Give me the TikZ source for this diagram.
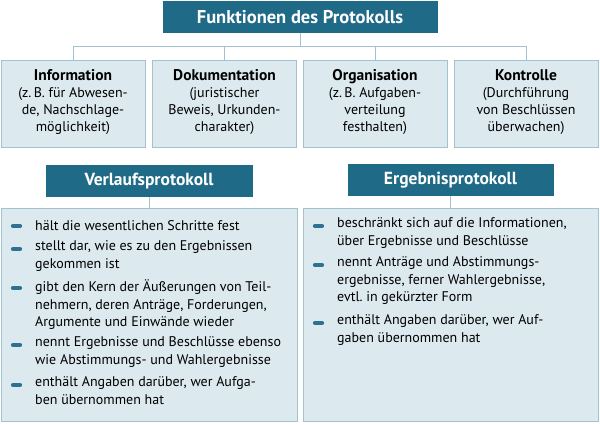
\documentclass[tikz,border=0pt]{standalone}
\usepackage{fontspec}
\setmainfont{PT Sans}

\definecolor{headblue}{HTML}{1F6A87}
\definecolor{boxfill}{HTML}{DCE9EF}
\definecolor{boxline}{HTML}{A2C2CF}
\definecolor{dashblue}{HTML}{2D7193}

\begin{document}
\begin{tikzpicture}[x=1pt, y=-1pt,
    head/.style={fill=headblue, text=white, inner sep=0pt, minimum height=32pt,
        font=\bfseries\fontsize{17.5}{19}\selectfont},
    funcbox/.style={draw=boxline, fill=boxfill, line width=0.8pt, minimum width=144pt,
        minimum height=87pt, inner sep=0pt, align=center,
        font=\fontsize{14}{17}\selectfont,
        execute at begin node=\strut, execute at end node=\strut},
    listbox/.style={draw=boxline, fill=boxfill, line width=0.8pt, inner sep=0pt,
        minimum height=213pt},
    item/.style={anchor=north west, inner sep=0pt, align=left,
        font=\fontsize{14}{17.5}\selectfont,
        execute at begin node=\strut, execute at end node=\strut},
    itemdash/.style={dashblue, line width=4.2pt, line cap=round},
    link/.style={boxline, line width=0.8pt}]

    \def\boxhead#1{{\fontsize{15.5}{17}\selectfont\bfseries #1}}

    \useasboundingbox (0,0) rectangle (600,425);

    % --- Top: functions ---
    \node[head, minimum width=275pt, font=\bfseries\fontsize{18.5}{19}\selectfont] (title) at (300,17)
        {Funktionen des Protokolls};

    \node[funcbox] (info) at (73,103.5)
        {\boxhead{Information}\\(z.\,B. für Abwesen-\\de, Nachschlage-\\möglichkeit)};
    \node[funcbox] (doku) at (224.5,103.5)
        {\boxhead{Dokumentation}\\(juristischer\\Beweis, Urkunden-\\charakter)};
    \node[funcbox] (orga) at (375,103.5)
        {\boxhead{Organisation}\\(z.\,B. Aufgaben-\\verteilung\\festhalten)};
    \node[funcbox] (kontr) at (526,103.5)
        {\boxhead{Kontrolle}\\(Durchführung\\von Beschlüssen\\überwachen)};

    \coordinate (hub) at (300,46);
    \draw[link] (title.south) -- (hub);
    \foreach \b in {info,doku,orga,kontr}
        \draw[link] (\b.north) |- (hub);

    % --- Two kinds of minutes ---
    \node[head, minimum width=207pt] (vhead) at (149,181) {Verlaufsprotokoll};
    \node[listbox, minimum width=296pt] (vbox) at (149,314.5) {};
    \draw[link] (vhead.south) -- (vbox.north);

    \node[head, minimum width=206pt] (ehead) at (450.5,180) {Ergebnisprotokoll};
    \node[listbox, minimum width=295pt] (ebox) at (450.5,314.5) {};
    \draw[link] (ehead.south) -- (ebox.north);

    % --- Items (left) ---
    \node[item] (l1) at (35,217.75) {hält die wesentlichen Schritte fest};
    \node[item] (l2) at (35,240.75) {stellt dar, wie es zu den Ergebnissen\\gekommen ist};
    \node[item] (l3) at (35,279.75)
        {gibt den Kern der Äußerungen von Teil-\\nehmern, deren Anträge, Forderungen,\\Argumente und Einwände wieder};
    \node[item] (l4) at (35,336.75)
        {nennt Ergebnisse und Beschlüsse ebenso\\wie Abstimmungs- und Wahlergebnisse};
    \node[item] (l5) at (35,376.75) {enthält Angaben darüber, wer Aufga-\\ben übernommen hat};

    % --- Items (right) ---
    \node[item] (r1) at (337,217.75)
        {beschränkt sich auf die Informationen,\\über Ergebnisse und Beschlüsse};
    \node[item] (r2) at (337,256.75)
        {nennt Anträge und Abstimmungs-\\ergebnisse, ferner Wahlergebnisse,\\evtl.\ in gekürzter Form};
    \node[item] (r3) at (337,314.75) {enthält Angaben darüber, wer Auf-\\gaben übernommen hat};

    % Bullets
    \foreach \n in {l1,l2,l3,l4,l5,r1,r2,r3}
        \draw[itemdash] ([shift={(-22pt,-8.25pt)}]\n.north west) -- ++(7,0);

\end{tikzpicture}
\end{document}
